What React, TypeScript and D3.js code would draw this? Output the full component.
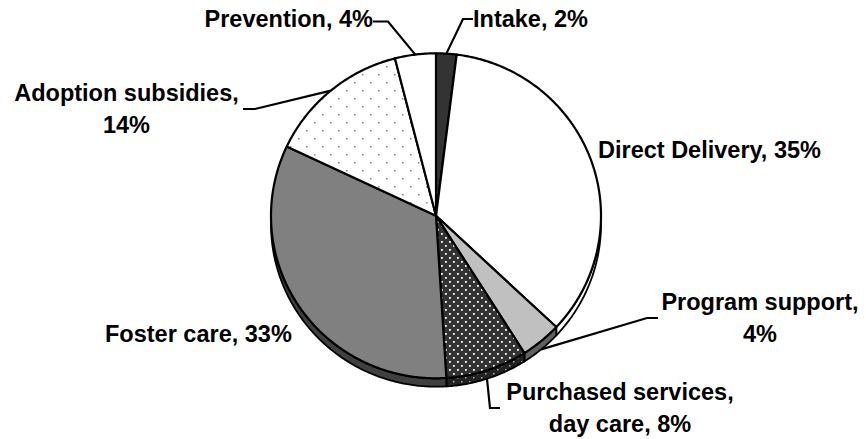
import React from "react";
import * as d3 from "d3";

const categories = [
  "Intake",
  "Direct Delivery",
  "Program support",
  "Purchased services, day care",
  "Foster care",
  "Adoption subsidies",
  "Prevention",
];
const values = [2, 35, 4, 8, 33, 14, 4];

const faceFills = ["#333333", "#ffffff", "#c0c0c0", "url(#pDark)", "#808080", "url(#pLight)", "#ffffff"];
const sideFills = ["#1a1a1a", "#ffffff", "#606060", "url(#pDarkSide)", "#404040", "url(#pLight)", "#ffffff"];

// label layout: lines, anchor, x, first baseline, leader polyline start points
const labelLayout = [
  { lines: ["Intake, 2%"], anchor: "start", x: 473, y: 27, leader: [[473, 19], [463, 19]], depth: false },
  { lines: ["Direct Delivery, 35%"], anchor: "start", x: 598, y: 158, leader: null, depth: false },
  { lines: ["Program support,", "4%"], anchor: "middle", x: 760, y: 310, leader: [[658, 318], [647, 318]], depth: true },
  { lines: ["Purchased services,", "day care, 8%"], anchor: "middle", x: 620, y: 400, leader: [[500, 408], [490, 408]], depth: true },
  { lines: ["Foster care, 33%"], anchor: "start", x: 105, y: 341.5, leader: null, depth: false },
  { lines: ["Adoption subsidies,", "14%"], anchor: "middle", x: 126.5, y: 101, leader: [[243, 109], [255, 109]], depth: false },
  { lines: ["Prevention, 4%"], anchor: "end", x: 373, y: 27, leader: [[373, 21.5], [388, 21.5]], depth: false },
];

const W = 866;
const H = 439;
const cx = 436;
const cy = 215.8;
const rx = 165;
const ry = 162.5;
const depth = 8.4;

function pt(a: number, dy = 0): [number, number] {
  return [cx + rx * Math.sin(a), cy - ry * Math.cos(a) + dy];
}

function arcPoints(a0: number, a1: number, dy: number): [number, number][] {
  const n = Math.max(2, Math.ceil(Math.abs(a1 - a0) / 0.01));
  const pts: [number, number][] = [];
  for (let i = 0; i <= n; i++) pts.push(pt(a0 + ((a1 - a0) * i) / n, dy));
  return pts;
}

export default function App() {
  const pie = d3.pie<number>().sort(null).startAngle(0).endAngle(2 * Math.PI);
  const arcs = pie(values);
  const line = d3.line();

  const sides = arcs.map((d, i) => {
    const a0 = Math.max(d.startAngle, Math.PI / 2);
    const a1 = Math.min(d.endAngle, (3 * Math.PI) / 2);
    if (a1 <= a0) return null;
    const top = arcPoints(a0, a1, 0);
    const bot = arcPoints(a1, a0, depth);
    return <path key={"s" + i} d={line([...top, ...bot])! + "Z"} fill={sideFills[i]} stroke="#000" strokeWidth={1.8} strokeLinejoin="round" />;
  });

  const faces = arcs.map((d, i) => {
    const pts: [number, number][] = [[cx, cy], ...arcPoints(d.startAngle, d.endAngle, 0)];
    return <path key={"f" + i} d={line(pts)! + "Z"} fill={faceFills[i]} stroke="#000" strokeWidth={2.2} strokeLinejoin="round" />;
  });

  const labels = arcs.map((d, i) => {
    const L = labelLayout[i];
    const mid = (d.startAngle + d.endAngle) / 2;
    const end = pt(mid, L.depth ? depth : 0);
    return (
      <g key={"l" + i}>
        {L.leader && (
          <path d={line([...(L.leader as [number, number][]), end])!} fill="none" stroke="#000" strokeWidth={2.2} />
        )}
        <text
          x={L.x}
          y={L.y}
          textAnchor={L.anchor as any}
          fontFamily="'Liberation Sans', Arial, Helvetica, sans-serif"
          fontWeight="bold"
          fontSize={23.5}
          fill="#000"
        >
          {L.lines.map((t, j) => (
            <tspan key={j} x={L.x} dy={j === 0 ? 0 : 31.5}>
              {t}
            </tspan>
          ))}
        </text>
      </g>
    );
  });

  return (
    <svg width={W} height={H} style={{ position: "absolute", left: 0, top: 0, background: "#fff" }}>
      <defs>
        <pattern id="pLight" width={16} height={16} patternUnits="userSpaceOnUse">
          <rect width={16} height={16} fill="#fff" />
          <rect x={2} y={2} width={1.5} height={1.5} fill="#888" />
          <rect x={10} y={10} width={1.5} height={1.5} fill="#888" />
        </pattern>
        <pattern id="pDark" width={8} height={8} patternUnits="userSpaceOnUse">
          <rect width={8} height={8} fill="#333" />
          <rect x={1} y={1} width={1.8} height={1.8} fill="#fff" />
          <rect x={5} y={5} width={1.8} height={1.8} fill="#fff" />
        </pattern>
        <pattern id="pDarkSide" width={8} height={8} patternUnits="userSpaceOnUse">
          <rect width={8} height={8} fill="#222" />
          <rect x={1} y={1} width={1.5} height={1.5} fill="#aaa" />
          <rect x={5} y={5} width={1.5} height={1.5} fill="#aaa" />
        </pattern>
      </defs>
      <rect width={W} height={H} fill="#fff" />
      {sides}
      {faces}
      {labels}
    </svg>
  );
}
